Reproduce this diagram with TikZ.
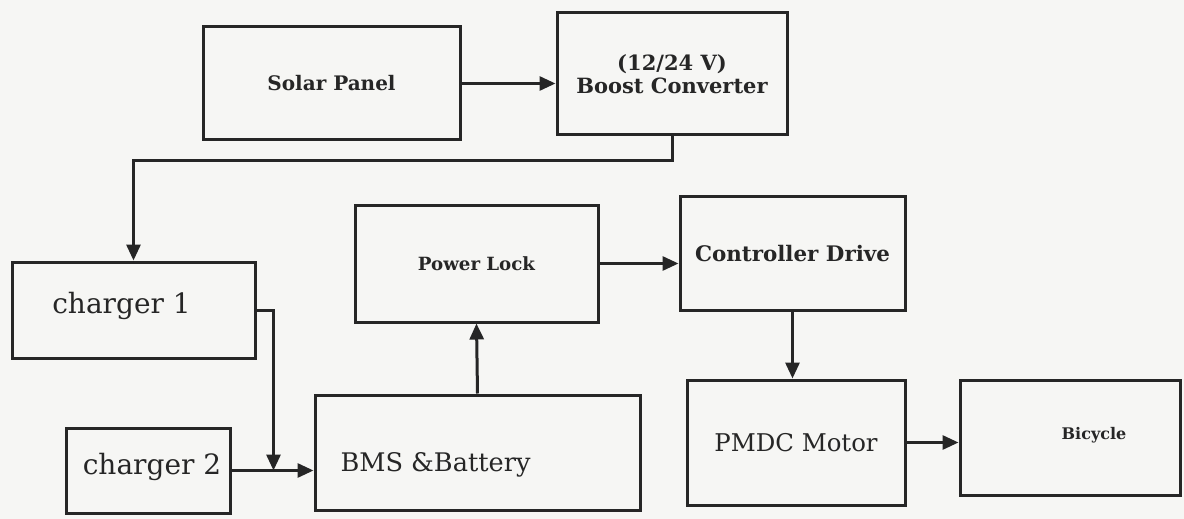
\documentclass[tikz,border=0pt]{standalone}
\usepackage{fontspec}
\setmainfont{DejaVu Serif}
\usepackage{xcolor}
\usepackage{tikz}
\usetikzlibrary{arrows.meta, positioning, calc}
\definecolor{paper}{HTML}{F6F6F4}
\definecolor{ink}{HTML}{262626}

\begin{document}
\begin{tikzpicture}[
  x=0.5pt, y=-0.5pt,
  box/.style={draw=ink, line width=1.5pt, minimum width=#1, inner sep=2pt, text=ink},
  box/.default=100pt,
  arr/.style={-{Triangle[length=8pt, width=7pt]}, line width=1.5pt, draw=ink}
]
\fill[paper] (0,0) rectangle (1184,519);
\useasboundingbox (0,0) rectangle (1184,519);

% top row
\node[box=128.5pt, minimum height=56.5pt, font=\fontsize{10}{12}\selectfont\bfseries] (solar) at (331.5,83.5) {Solar Panel};
\node[box=115pt, minimum height=61pt, font=\fontsize{10.5}{11.5}\selectfont\bfseries, align=center] (boost) at (672,74)
  {(12/24 V)\\Boost Converter};

% chargers on the left
\node[box=121.5pt, minimum height=48pt,
  label={[xshift=-6pt, yshift=2pt, font=\fontsize{14}{16}\selectfont, text=ink]center:charger 1}]
  (chgone) at (133.5,310) {};
\node[box=82pt, minimum height=42.5pt,
  label={[xshift=2pt, yshift=2pt, font=\fontsize{14}{16}\selectfont, text=ink]center:charger 2}]
  (chgtwo) at (148,470.5) {};

% battery and drive chain
\node[box=162.5pt, minimum height=57.5pt,
  label={[xshift=-21pt, yshift=-6pt, font=\fontsize{12.8}{15}\selectfont, text=ink]center:BMS \&Battery}]
  (bms) at (477.5,452.5) {};
\node[box=121.5pt, minimum height=58.5pt, font=\fontsize{9.1}{11}\selectfont\bfseries] (lock) at (476.5,263.5) {Power Lock};
\node[box=112.5pt, minimum height=56.5pt, font=\fontsize{10.7}{12}\selectfont\bfseries] (ctrl) at (792.5,253.5) {Controller Drive};
\node[box=109pt, minimum height=62.5pt, font=\fontsize{12.2}{14}\selectfont] (pmdc) at (796,442.5) {PMDC Motor};
\node[box=110pt, minimum height=57.5pt,
  label={[xshift=12pt, yshift=1pt, font=\fontsize{8}{10}\selectfont\bfseries, text=ink]center:Bicycle}]
  (bike) at (1070,437.5) {};

\draw[arr] (solar.east) -- (solar.east -| boost.west);
\draw[arr] (boost.south) -- ++(0,24) -| (chgone.north);
\path (chgone.east) ++(17,0) coordinate (bend);
\draw[arr] (chgone.east) -| (bend |- chgtwo.east);
\draw[arr] (chgtwo.east) -- (chgtwo.east -| bms.west);
\draw[arr] (bms.north) -- (lock.south);
\draw[arr] (lock.east) -- (lock.east -| ctrl.west);
\draw[arr] (ctrl.south) -- (ctrl.south |- pmdc.north);
\draw[arr] (pmdc.east) -- (pmdc.east -| bike.west);
\end{tikzpicture}
\end{document}
